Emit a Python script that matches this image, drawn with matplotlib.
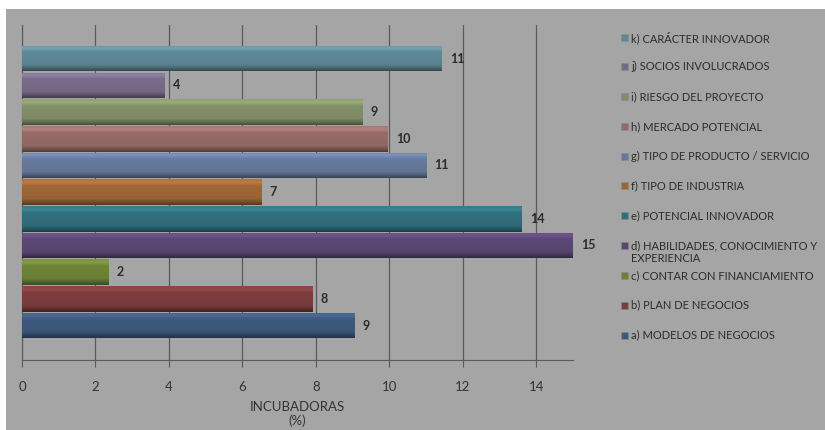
import numpy as np
import matplotlib
matplotlib.use("Agg")
import matplotlib.pyplot as plt
from matplotlib.colors import to_rgb
from matplotlib.patches import Rectangle

plt.rcParams['font.family'] = ['Lato', 'DejaVu Sans']

# criterios (de abajo hacia arriba) y porcentaje de incubadoras
criterios = [
    "a) MODELOS DE NEGOCIOS",
    "b) PLAN DE NEGOCIOS",
    "c) CONTAR CON FINANCIAMIENTO",
    "d) HABILIDADES, CONOCIMIENTO Y\nEXPERIENCIA",
    "e) POTENCIAL INNOVADOR",
    "f) TIPO DE INDUSTRIA",
    "g) TIPO DE PRODUCTO / SERVICIO",
    "h) MERCADO POTENCIAL",
    "i) RIESGO DEL PROYECTO",
    "j) SOCIOS INVOLUCRADOS",
    "k) CARÁCTER INNOVADOR",
]
porcentajes = [9.05, 7.9, 2.35, 15.0, 13.6, 6.52, 11.0, 9.95, 9.27, 3.88, 11.43]
colores = ["#3d587c", "#7b3c3c", "#6c8238", "#5a4672", "#306e7c", "#9c6535",
           "#66789a", "#946a66", "#7f8e64", "#776a88", "#5e8694"]
xticks = [0, 2, 4, 6, 8, 10, 12, 14]

FONDO = "#a5a5a5"
TEXTO = "#2b2b2b"

fig = plt.figure(figsize=(8.25, 4.3), dpi=100, facecolor="white")
fig.patches.append(Rectangle((6 / 825, 0), 1, 1 - 9 / 430, transform=fig.transFigure,
                             facecolor=FONDO, edgecolor="none", zorder=-10))
ax = fig.add_axes([22 / 825, 1 - 360 / 430, (573 - 22) / 825, (360 - 25) / 430])
ax.set_facecolor(FONDO)

pos = np.arange(len(criterios))
barras = ax.barh(pos, porcentajes, height=0.96, color=colores, zorder=2)


def degradado(c, n=64):
    # brillo superior, cuerpo y sombra inferior de cada barra
    base = np.array(to_rgb(c))
    t = np.linspace(0, 1, n)
    f = np.interp(t, [0, 0.12, 0.25, 0.75, 0.88, 1.0], [1.12, 1.22, 1.02, 0.97, 0.78, 0.55])
    return np.clip(base[None, :] * f[:, None], 0, 1)[:, None, :]


for b, c in zip(barras, colores):
    x0, y0, w, h = b.get_x(), b.get_y(), b.get_width(), b.get_height()
    im = ax.imshow(degradado(c), extent=[x0, x0 + w, y0, y0 + h], origin="upper",
                   aspect="auto", zorder=3, interpolation="bilinear")
    im.set_clip_path(b)

ax.bar_label(barras, labels=[f"{v:.0f}" for v in porcentajes], padding=6,
             fontsize=9, fontweight="bold", color=TEXTO)

ax.set_xlim(0, 15)
ax.set_ylim(-1.29, 11.26)
ax.set_xticks(xticks)
ax.set_yticks([])
ax.grid(axis="x", color="#5a5a5a", linewidth=0.9, zorder=0)
for lado in ["top", "right"]:
    ax.spines[lado].set_visible(False)
ax.spines["left"].set_color("#5a5a5a")
ax.spines["bottom"].set_color("#5a5a5a")
ax.tick_params(axis="x", length=5, color="#5a5a5a", labelsize=9.5,
               labelcolor="#333333", pad=10)
ax.set_xlabel("INCUBADORAS\n(%)", fontsize=9.5, color="#333333", labelpad=6,
              linespacing=1.1)

# leyenda a la derecha, de k) a a)
y_ley = 37
for nombre, c in zip(criterios[::-1], colores[::-1]):
    yf = 1 - y_ley / 430
    fig.patches.append(Rectangle((621 / 825, yf - 3.5 / 430), 7 / 825, 7 / 430,
                                 transform=fig.transFigure, facecolor=c,
                                 edgecolor="#8a8a8a", linewidth=0.4))
    fig.text(631 / 825, yf + 5.5 / 430, nombre, fontsize=8, color=TEXTO,
             va="top", ha="left", linespacing=1.2)
    y_ley += 29.8

fig.savefig("out.png", dpi=100, facecolor=fig.get_facecolor())
